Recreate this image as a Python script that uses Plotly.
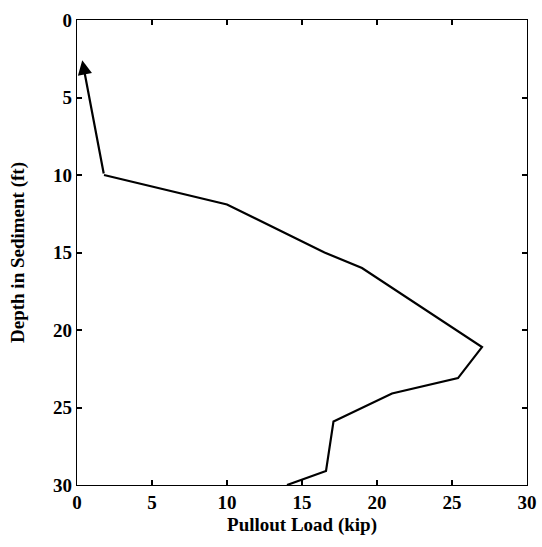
import plotly.graph_objects as go

# Data
pullout_load = [14.0, 16.6, 17.1, 21.0, 25.4, 27.0, 19.0, 16.5, 10.0, 1.8]
depth = [30.0, 29.1, 25.9, 24.1, 23.1, 21.1, 16.0, 15.0, 11.9, 10.0]
arrow_tip = (0.35, 2.6)

tick_vals = [0, 5, 10, 15, 20, 25, 30]

font_family = "Liberation Serif"

fig = go.Figure()
fig.add_trace(go.Scatter(
    x=pullout_load, y=depth, mode="lines",
    line=dict(color="black", width=2.2),
    showlegend=False, hoverinfo="skip",
))

fig.add_annotation(
    x=arrow_tip[0], y=arrow_tip[1], xref="x", yref="y",
    ax=pullout_load[-1], ay=depth[-1], axref="x", ayref="y",
    showarrow=True, arrowhead=2, arrowsize=1.3, arrowwidth=2.2,
    arrowcolor="black", text="",
)

axis_common = dict(
    showgrid=False, zeroline=False, automargin=False,
    showline=True, linecolor="black", linewidth=1.3, mirror="ticks",
    ticks="inside", ticklen=5, tickwidth=1.5, tickcolor="black",
    tickvals=tick_vals,
    tickfont=dict(family=font_family, size=19, color="black", weight="bold"),
    title_font=dict(family=font_family, size=19, color="black", weight="bold"),
)

fig.update_xaxes(range=[0, 30], title_text="Pullout Load (kip)", title_standoff=5,
                 **axis_common)
fig.update_yaxes(range=[30, 0], title_text="Depth in Sediment (ft)", title_standoff=23,
                 **axis_common)

fig.update_layout(
    width=542, height=547,
    margin=dict(l=77, r=15, t=20, b=62),
    plot_bgcolor="white", paper_bgcolor="white",
)

fig.write_html("out.html")
